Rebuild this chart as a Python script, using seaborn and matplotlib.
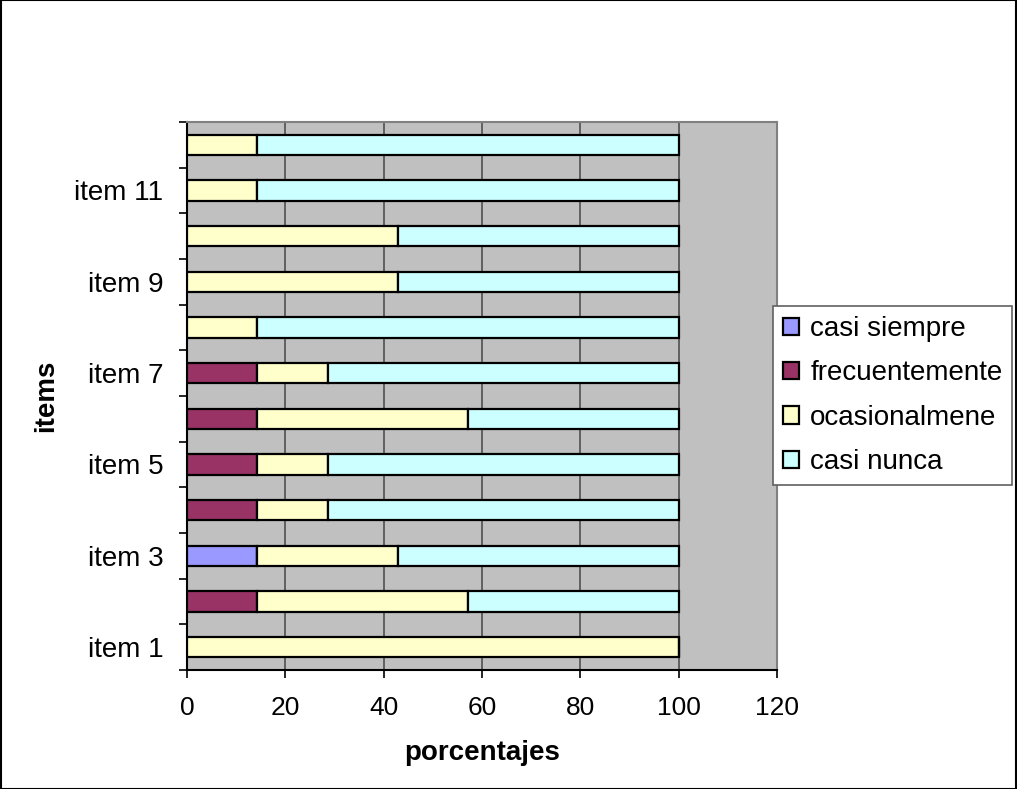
import matplotlib
matplotlib.use("Agg")
import matplotlib.pyplot as plt
import numpy as np
import pandas as pd
import seaborn as sns

items = [f"item {i}" for i in range(1, 13)]
series = ["casi siempre", "frecuentemente", "ocasionalmene", "casi nunca"]
casi_siempre   = [0, 0, 14.29, 0, 0, 0, 0, 0, 0, 0, 0, 0]
frecuentemente = [0, 14.29, 0, 14.29, 14.29, 14.29, 14.29, 0, 0, 0, 0, 0]
ocasional      = [100, 42.86, 28.57, 14.29, 14.29, 42.86, 14.29, 14.29, 42.86, 42.86, 14.29, 14.29]
casi_nunca     = [0, 42.86, 57.14, 71.43, 71.43, 42.86, 71.43, 85.71, 57.14, 57.14, 85.71, 85.71]
colors = ["#9999FF", "#993366", "#FFFFCC", "#CCFFFF"]
xticks = [0, 20, 40, 60, 80, 100, 120]

sns.set_style("white")
plt.rcParams["font.family"] = ["Liberation Sans", "DejaVu Sans"]
plt.rcParams["text.color"] = "black"
plt.rcParams["axes.labelcolor"] = "black"
plt.rcParams["xtick.color"] = "black"
plt.rcParams["ytick.color"] = "black"

fig = plt.figure(figsize=(10.17, 7.89), dpi=100)
ax = fig.add_axes([187 / 1017, 1 - 670 / 789, 590 / 1017, 548 / 789])
ax.set_facecolor("#C0C0C0")

values = [casi_siempre, frecuentemente, ocasional, casi_nunca]
left = np.zeros(len(items))
for name, vals, col in zip(series, values, colors):
    df = pd.DataFrame({"item": items, "pct": vals})
    sns.barplot(data=df, x="pct", y="item", order=items, orient="h",
                color=col, left=left, width=0.44, edgecolor="black",
                linewidth=1.6, saturation=1, label=name, ax=ax, zorder=3)
    left = left + np.array(vals)

if ax.get_legend() is not None:
    ax.get_legend().remove()

ax.set_ylim(-0.5, len(items) - 0.5)
ax.set_xlim(0, 120)
ax.set_xticks(xticks)
ax.set_xticklabels([str(t) for t in xticks], fontsize=19)
ax.set_yticks(range(len(items)))
ax.set_yticklabels([lab if i % 2 == 0 else "" for i, lab in enumerate(items)], fontsize=20)
ax.set_yticks(np.arange(-0.5, len(items)), minor=True)
ax.tick_params(axis="y", which="major", left=True, length=0, pad=17)
ax.tick_params(axis="y", which="minor", left=True, length=6, width=1.2,
               color="black", direction="out")
ax.tick_params(axis="x", bottom=True, length=6, width=1.2, color="black",
               direction="out", pad=13)

ax.grid(axis="x", color="#505050", linewidth=1.2, zorder=1)
ax.set_axisbelow(True)
for s in ["top", "right"]:
    ax.spines[s].set_color("#808080")
    ax.spines[s].set_linewidth(1.5)
for s in ["left", "bottom"]:
    ax.spines[s].set_color("black")
    ax.spines[s].set_linewidth(1.5)

ax.set_xlabel("porcentajes", fontsize=20, fontweight="bold", labelpad=14)
ax.set_ylabel("items", fontsize=20, fontweight="bold", labelpad=11)

handles, labels = ax.get_legend_handles_labels()
leg = fig.legend(handles, labels, loc="upper left",
                 bbox_to_anchor=(773 / 1017, 1 - 306 / 789),
                 fontsize=20, frameon=True, fancybox=False, shadow=False,
                 handlelength=0.58, handleheight=0.58, handletextpad=0.4,
                 labelspacing=0.66, borderpad=0.36, borderaxespad=0)
leg.get_frame().set_edgecolor("#606060")
leg.get_frame().set_linewidth(1.2)
leg.get_frame().set_alpha(1)

border = plt.Rectangle((0.0005, 0.0005), 0.999, 0.999, transform=fig.transFigure,
                       fill=False, edgecolor="black", linewidth=1.5)
fig.patches.append(border)

fig.savefig("out.png", dpi=100)
